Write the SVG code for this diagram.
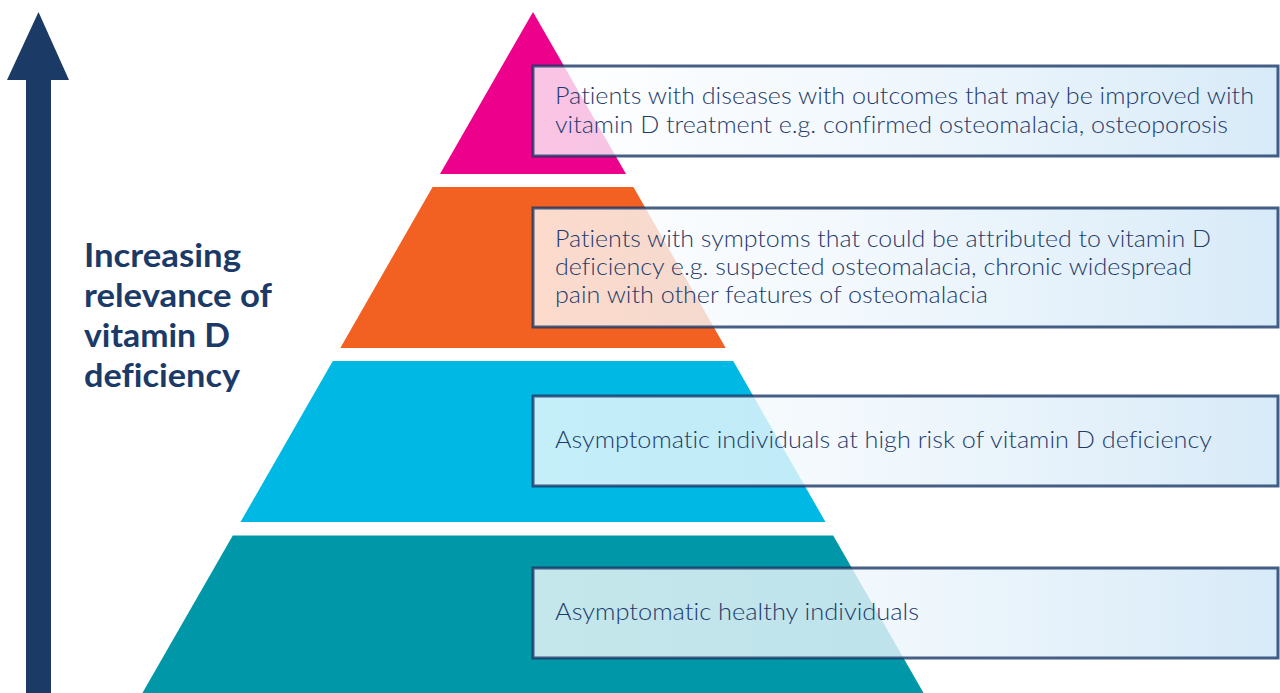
<svg xmlns="http://www.w3.org/2000/svg" width="1280" height="693" viewBox="0 0 1280 693">
  <defs>
    <linearGradient id="boxFill" x1="0" y1="0" x2="1" y2="0">
      <stop offset="0" stop-color="#ffffff" stop-opacity="0.77"/>
      <stop offset="0.45" stop-color="#eef6fc" stop-opacity="0.8"/>
      <stop offset="1" stop-color="#d3e8f7" stop-opacity="0.9"/>
    </linearGradient>
    <style>
      .box { fill: url(#boxFill); stroke: #1a3766; stroke-opacity: 0.8; stroke-width: 3; }
      .lbl { font-family: Lato, "Liberation Sans", sans-serif; font-size: 24px; font-weight: 300; fill: #1f3b6b; font-variant-ligatures: none; }
      .axis-lbl { font-family: Lato, "Liberation Sans", sans-serif; font-size: 33px; font-weight: 700; fill: #1b3a68; font-variant-ligatures: none; }
      .arrow { fill: #1b3a66; }
    </style>
  </defs>
  <rect width="1280" height="693" fill="#ffffff"/>

  <g id="axis-arrow">
    <rect class="arrow" x="26" y="79" width="25" height="614"/>
    <polygon class="arrow" points="38.5,12 69,80 7,80"/>
  </g>

  <g id="axis-label">
    <text class="axis-lbl" x="84" y="267" textLength="157" lengthAdjust="spacingAndGlyphs">Increasing</text>
    <text class="axis-lbl" x="84" y="307" textLength="188" lengthAdjust="spacingAndGlyphs">relevance of</text>
    <text class="axis-lbl" x="84" y="347" textLength="146" lengthAdjust="spacingAndGlyphs">vitamin D</text>
    <text class="axis-lbl" x="84" y="387" textLength="156" lengthAdjust="spacingAndGlyphs">deficiency</text>
  </g>

  <g id="pyramid">
    <polygon id="layer-1" fill="#ec008c" points="533,12 626,174 440,174"/>
    <polygon id="layer-2" fill="#f26122" points="432.6,187 633.4,187 725.7,348 340.3,348"/>
    <polygon id="layer-3" fill="#00b8e4" points="332.8,361 733.2,361 825.5,522 240.5,522"/>
    <polygon id="layer-4" fill="#0097a8" points="232.8,535.5 833.2,535.5 923.6,693 142.4,693"/>
  </g>

  <g id="node-1">
    <rect class="box" x="533" y="66" width="745" height="90"/>
    <text class="lbl" x="555" y="104" textLength="699" lengthAdjust="spacingAndGlyphs">Patients with diseases with outcomes that may be improved with</text>
    <text class="lbl" x="555" y="133" textLength="673" lengthAdjust="spacingAndGlyphs">vitamin D treatment e.g. confirmed osteomalacia, osteoporosis</text>
  </g>

  <g id="node-2">
    <rect class="box" x="533" y="208" width="745" height="119"/>
    <text class="lbl" x="555" y="247" textLength="656" lengthAdjust="spacingAndGlyphs">Patients with symptoms that could be attributed to vitamin D</text>
    <text class="lbl" x="555" y="275" textLength="637" lengthAdjust="spacingAndGlyphs">deficiency e.g. suspected osteomalacia, chronic widespread</text>
    <text class="lbl" x="555" y="303" textLength="433" lengthAdjust="spacingAndGlyphs">pain with other features of osteomalacia</text>
  </g>

  <g id="node-3">
    <rect class="box" x="533" y="396" width="745" height="90"/>
    <text class="lbl" x="555" y="448" textLength="657" lengthAdjust="spacingAndGlyphs">Asymptomatic individuals at high risk of vitamin D deficiency</text>
  </g>

  <g id="node-4">
    <rect class="box" x="533" y="568" width="745" height="90"/>
    <text class="lbl" x="555" y="620" textLength="364" lengthAdjust="spacingAndGlyphs">Asymptomatic healthy individuals</text>
  </g>

  <g id="connectors"/>
</svg>
